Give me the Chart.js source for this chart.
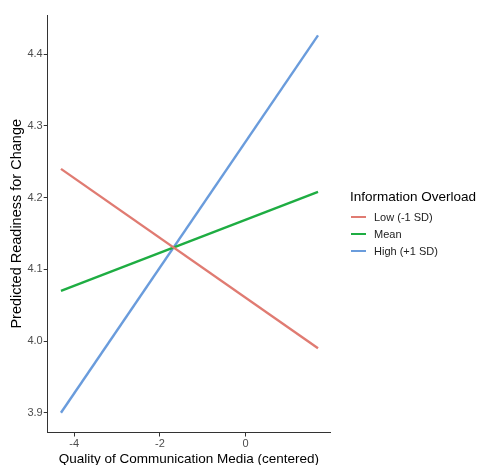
<!DOCTYPE html>
<html><head><meta charset="utf-8">
<script src="https://cdn.jsdelivr.net/npm/chart.js@4"></script>
<style>
html,body{margin:0;padding:0;background:#fff}
#wrap{width:478px;height:465px;position:relative}
#legend{position:absolute;left:350px;top:188px;font-family:'Liberation Sans',Arial,sans-serif;color:#000}
#legend .t{font-size:13.5px;line-height:17px;margin-bottom:4px;white-space:nowrap}
#legend .i{font-size:11px;line-height:17px;height:17px;white-space:nowrap;color:#222}
#legend .sw{display:inline-block;width:15px;height:0;border-top:2.4px solid;vertical-align:middle;margin:0 8px 2px 1px}
</style>
</head><body><div id="wrap"><canvas id="c"></canvas><div id="legend"></div></div>
<script>
const xValues = [-4.31, 1.69];
const lowValues = [4.24, 3.99];
const meanValues = [4.07, 4.208];
const highValues = [3.90, 4.426];
const seriesNames = ['Low (-1 SD)', 'Mean', 'High (+1 SD)'];
const seriesColors = ['#e07b72', '#1ead42', '#6a9cdc'];
const legendTitle = 'Information Overload';
const xTicks = [-4, -2, 0];
const yTicks = [3.9, 4.0, 4.1, 4.2, 4.3, 4.4];

const FONT = "'Liberation Sans', Arial, sans-serif";
const toPts = vals => xValues.map((x, i) => ({x: x, y: vals[i]}));
const allSeries = [lowValues, meanValues, highValues];

const chart = new Chart(document.getElementById('c'), {
  type: 'line',
  data: {
    datasets: allSeries.map((vals, i) => ({
      label: seriesNames[i],
      data: toPts(vals),
      borderColor: seriesColors[i],
      backgroundColor: seriesColors[i],
      borderWidth: 2.4,
      pointRadius: 0,
      tension: 0,
      fill: false
    }))
  },
  options: {
    responsive: true,
    maintainAspectRatio: false,
    devicePixelRatio: 1,
    animation: false,
    layout: {padding: {top: 15, right: 148, bottom: 0, left: 8}},
    plugins: {
      tooltip: {enabled: false},
      legend: {display: false}
    },
    scales: {
      x: {
        type: 'linear',
        min: -4.62,
        max: 1.97,
        afterBuildTicks: s => { s.ticks = xTicks.map(v => ({value: v})); },
        ticks: {color: '#4d4d4d', font: {family: FONT, size: 11, lineHeight: 1.0}, padding: 2, callback: v => String(v)},
        grid: {display: true, drawOnChartArea: false, drawTicks: true, tickLength: 4, color: '#333', lineWidth: 1},
        border: {display: true, color: '#333', width: 1},
        title: {display: true, text: 'Quality of Communication Media (centered)', color: '#000', font: {family: FONT, size: 13.5, lineHeight: 0.85}, padding: {top: 2, bottom: 0}}
      },
      y: {
        type: 'linear',
        min: 3.8725,
        max: 4.4545,
        afterBuildTicks: s => { s.ticks = yTicks.map(v => ({value: v})); },
        ticks: {color: '#4d4d4d', font: {family: FONT, size: 11}, padding: 1, callback: v => Number(v).toFixed(1)},
        grid: {display: true, drawOnChartArea: false, drawTicks: true, tickLength: 4, color: '#333', lineWidth: 1},
        border: {display: true, color: '#333', width: 1},
        title: {display: true, text: 'Predicted Readiness for Change', color: '#000', font: {family: FONT, size: 14.5}, padding: {top: 0, bottom: 1}}
      }
    }
  }
});

const lg = document.getElementById('legend');
let html = '<div class="t">' + legendTitle + '</div>';
seriesNames.forEach((n, i) => {
  html += '<div class="i"><span class="sw" style="border-color:' + seriesColors[i] + '"></span>' + n + '</div>';
});
lg.innerHTML = html;
</script></body></html>
